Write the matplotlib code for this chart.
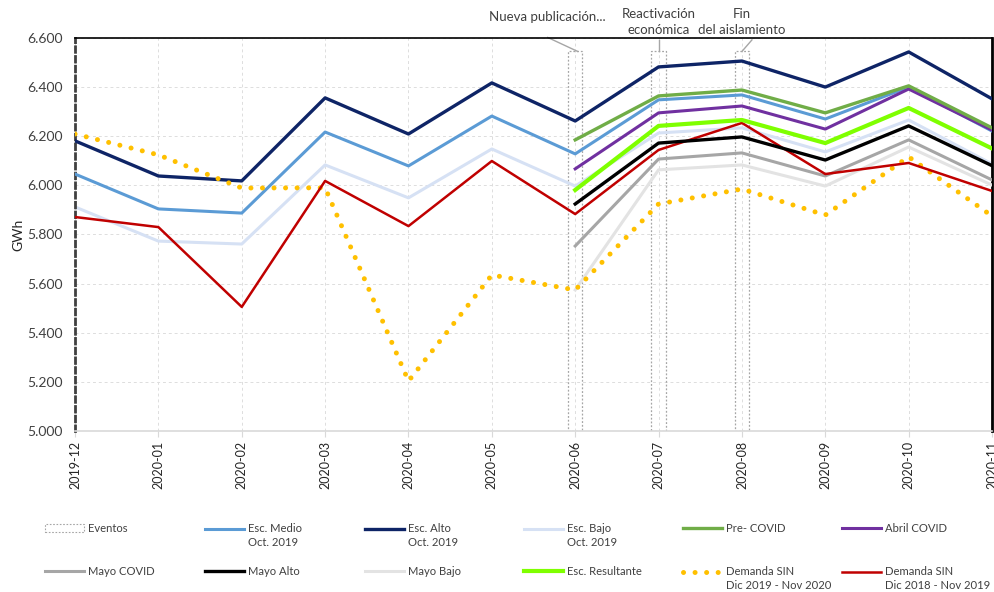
import matplotlib.pyplot as plt
from matplotlib.patches import Patch
from matplotlib.lines import Line2D
from matplotlib.legend_handler import HandlerLine2D
from matplotlib.ticker import FuncFormatter

plt.rcParams['font.family'] = ['Lato', 'DejaVu Sans']

meses = ['2019-12', '2020-01', '2020-02', '2020-03', '2020-04', '2020-05',
         '2020-06', '2020-07', '2020-08', '2020-09', '2020-10', '2020-11']

# escenarios octubre 2019 (GWh)
esc_alto = [6181, 6038, 6018, 6356, 6209, 6417, 6262, 6482, 6506, 6400, 6543, 6352]
esc_medio = [6046, 5904, 5887, 6217, 6079, 6282, 6128, 6348, 6368, 6270, 6400, 6221]
esc_bajo = [5912, 5773, 5761, 6083, 5949, 6148, 5997, 6213, 6234, 6136, 6266, 6087]

# escenarios covid, desde 2020-06
meses_covid = meses[6:]
pre_covid = [6185, 6364, 6388, 6295, 6405, 6234]
abril_covid = [6067, 6295, 6323, 6229, 6392, 6225]
esc_resultante = [5981, 6242, 6266, 6172, 6315, 6150]
mayo_alto = [5924, 6172, 6197, 6103, 6242, 6080]
mayo_covid = [5753, 6107, 6132, 6038, 6185, 6022]
mayo_bajo = [5574, 6063, 6083, 5997, 6156, 6001]

# demanda real
demanda_2020 = [6209, 6124, 5989, 5990, 5203, 5635, 5574, 5924, 5985, 5879, 6116, 5875]
demanda_2019 = [5871, 5830, 5505, 6018, 5834, 6099, 5883, 6144, 6254, 6046, 6091, 5977]

# eventos
eventos_mes = ['2020-06', '2020-07', '2020-08']
eventos_tope = [6545, 6545, 6545]
eventos_txt = ['Nueva publicación...', 'Reactivación\neconómica', 'Fin\ndel aislamiento']

BASE = 5000


class HandlerPrimerRenglon(HandlerLine2D):
    """Dibuja la muestra a la altura del primer renglon de una etiqueta de dos."""

    def create_artists(self, legend, orig_handle, xdescent, ydescent, width, height,
                       fontsize, trans):
        return super().create_artists(legend, orig_handle, xdescent,
                                      ydescent - 1.35 * fontsize, width, height,
                                      fontsize, trans)


x = list(range(len(meses)))
xc = [meses.index(m) for m in meses_covid]
xe = [meses.index(m) for m in eventos_mes]

fig = plt.figure(figsize=(9.95, 5.92), dpi=100)
ax = fig.add_axes([0.0754, 0.272, 0.9216, 0.6639])

ax.bar(xe, [t - BASE for t in eventos_tope], bottom=BASE, width=0.17, fill=False,
       edgecolor='#A6A6A6', linestyle=(0, (1.5, 1.5)), linewidth=0.9, zorder=1)

ax.plot(x, esc_bajo, color='#D6E1F4', lw=2.2, zorder=2)
ax.plot(x, esc_medio, color='#5B9BD5', lw=2.2, zorder=3)
ax.plot(x, esc_alto, color='#0E2466', lw=2.4, zorder=3)
ax.plot(xc, mayo_bajo, color='#E3E3E3', lw=2.2, zorder=3)
ax.plot(xc, mayo_covid, color='#A6A6A6', lw=2.2, zorder=3)
ax.plot(x, demanda_2020, color='#FFC000', lw=3.6, linestyle=(0, (0.01, 2.3)),
        dash_capstyle='round', zorder=3)
ax.plot(x, demanda_2019, color='#C00000', lw=1.8, zorder=4)
ax.plot(xc, mayo_alto, color='#000000', lw=2.4, zorder=4)
ax.plot(xc, esc_resultante, color='#7FFF00', lw=3.0, zorder=4)
ax.plot(xc, abril_covid, color='#7030A0', lw=2.2, zorder=4)
ax.plot(xc, pre_covid, color='#70AD47', lw=2.4, zorder=4)

ax.set_xlim(0, 11)
ax.set_ylim(5000, 6600)
ax.set_yticks(range(5000, 6601, 200))
ax.yaxis.set_major_formatter(FuncFormatter(lambda v, p: f'{int(v):,}'.replace(',', '.')))
ax.set_xticks(x)
ax.set_xticklabels(meses, rotation=90, fontsize=9, color='#262626')
ax.tick_params(axis='y', length=0, labelsize=10, labelcolor='#404040', pad=9)
ax.tick_params(axis='x', length=4, color='#D9D9D9', pad=3)
ax.grid(True, color='#DDDDDD', linestyle=(0, (3, 3)), linewidth=0.7)
ax.set_axisbelow(True)
ax.set_ylabel('GWh', fontsize=10, color='#262626', labelpad=2)

ax.spines['left'].set_linestyle((0, (2, 1.5)))
ax.spines['left'].set_linewidth(2)
ax.spines['left'].set_color('#404040')
ax.spines['top'].set_linewidth(1.2)
ax.spines['right'].set_linewidth(2)
ax.spines['bottom'].set_color('#D9D9D9')
ax.spines['bottom'].set_linewidth(1.2)

# etiquetas de eventos con sus guias
guias = [((5.67, 6602), (6.03, 6545)), ((7.0, 6592), (7.0, 6545)), ((8.12, 6592), (8.0, 6545))]
txt_pos = [(5.67, 6686), (7.0, 6665), (8.0, 6665)]
for t, (px, py), (a, b) in zip(eventos_txt, txt_pos, guias):
    ax.text(px, py, t, ha='center', va='center', fontsize=9.5, color='#404040',
            linespacing=1.4, clip_on=False)
    ax.plot([a[0], b[0]], [a[1], b[1]], color='#A6A6A6', lw=1, clip_on=False)

# leyenda en dos filas de seis
entradas = [
    (Patch(facecolor='none', edgecolor='#A6A6A6', linestyle=(0, (1.5, 1.5)), lw=0.8), 'Eventos'),
    (Line2D([], [], color='#5B9BD5', lw=2.2), 'Esc. Medio\nOct. 2019'),
    (Line2D([], [], color='#0E2466', lw=2.4), 'Esc. Alto\nOct. 2019'),
    (Line2D([], [], color='#D6E1F4', lw=2.2), 'Esc. Bajo\nOct. 2019'),
    (Line2D([], [], color='#70AD47', lw=2.4), 'Pre- COVID'),
    (Line2D([], [], color='#7030A0', lw=2.2), 'Abril COVID'),
    (Line2D([], [], color='#A6A6A6', lw=2.2), 'Mayo COVID'),
    (Line2D([], [], color='#000000', lw=2.4), 'Mayo Alto'),
    (Line2D([], [], color='#E3E3E3', lw=2.2), 'Mayo Bajo'),
    (Line2D([], [], color='#7FFF00', lw=3.0), 'Esc. Resultante'),
    (Line2D([], [], color='#FFC000', lw=3.6, linestyle=(0, (0.01, 2.3)), dash_capstyle='round'),
     'Demanda SIN\nDic 2019 - Nov 2020'),
    (Line2D([], [], color='#C00000', lw=1.8), 'Demanda SIN\nDic 2018 - Nov 2019'),
]
col_x = [45, 205, 365, 524, 683, 842]
for i, (h, lab) in enumerate(entradas):
    fila, col = divmod(i, 6)
    py = 523 + fila * 43
    hmap = {}
    if '\n' in lab:
        hmap = {h: HandlerPrimerRenglon()}
    lg = fig.legend([h], [lab], loc='upper left',
                    bbox_to_anchor=(col_x[col] / 995, 1 - py / 592),
                    frameon=False, borderpad=0, borderaxespad=0, handlelength=3.5,
                    handletextpad=0.35, fontsize=8.1, labelcolor='#404040',
                    handler_map=hmap)
    for t in lg.get_texts():
        t.set_linespacing(1.35)

fig.savefig('out.png', dpi=100)
